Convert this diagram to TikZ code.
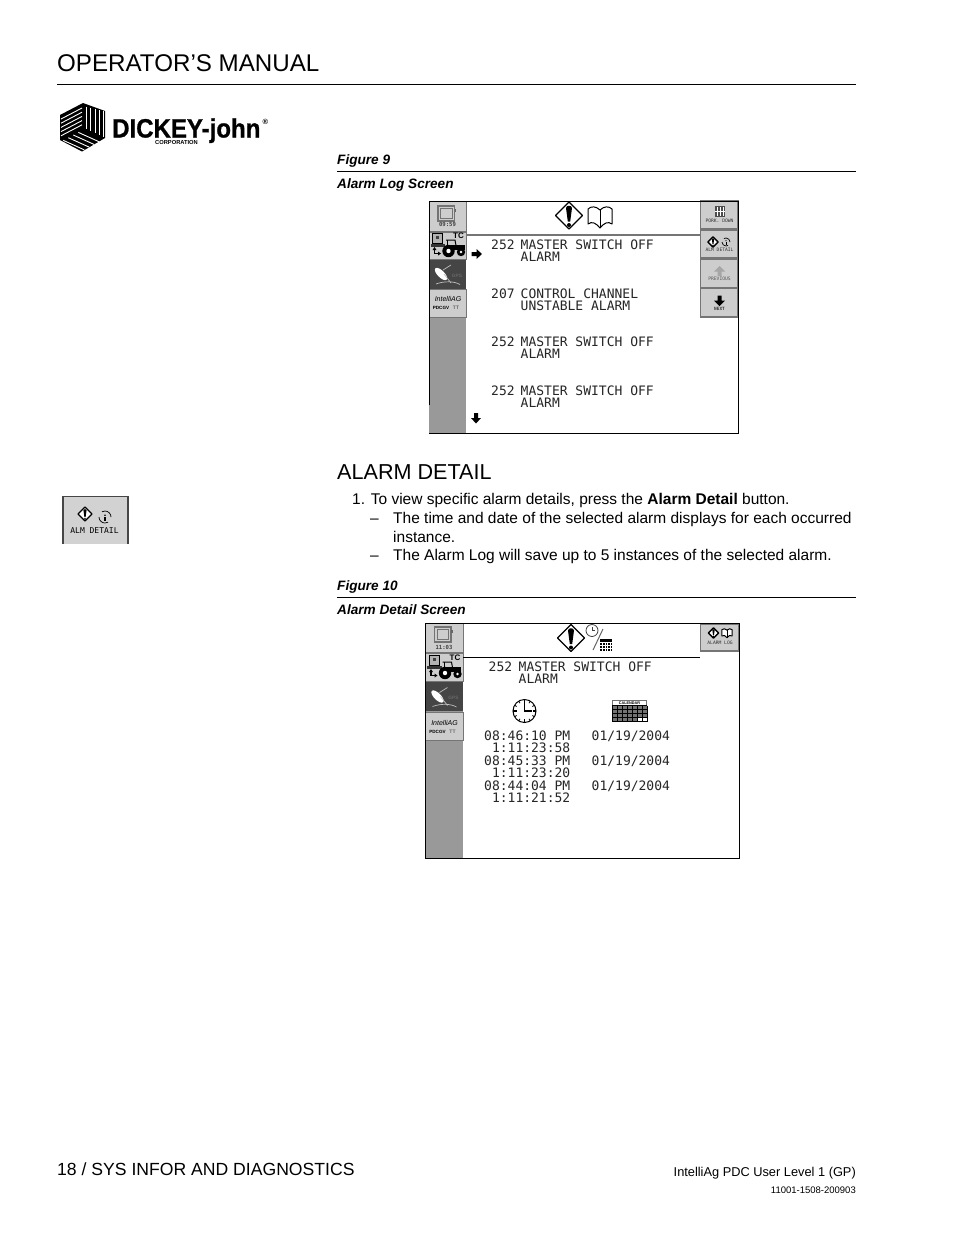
\documentclass[tikz,border=0pt]{standalone}
\usepackage{fontspec}
\setmainfont{Liberation Sans}
\newfontfamily\scrfont{DejaVu Sans Mono}
\newfontfamily\logofont[BoldFeatures={FakeBold=0.9}]{Liberation Sans}
\newcommand{\fsz}[1]{\fontsize{#1}{#1}\selectfont}
\definecolor{sidegray}{HTML}{999999}
\definecolor{btnlight}{HTML}{CDCDCD}
\definecolor{btndark}{HTML}{454545}
\definecolor{btnedge}{HTML}{757575}
\definecolor{scrink}{HTML}{262626}
\tikzset{
  x=1pt,y=-1pt,
  txt/.style={inner sep=0pt,anchor=base west,text=black},
  txtr/.style={inner sep=0pt,anchor=base east,text=black},
  headtxt/.style={txt,font=\fsz{24.15}},
  sectxt/.style={txt,font=\fsz{21.6}},
  bodytxt/.style={txt,font=\fsz{15.5}},
  captxt/.style={txt,font=\fsz{13.6}\bfseries\itshape},
  rulerline/.style={draw=black,line width=.8pt},
  scr/.style={inner sep=0pt,anchor=base west,text=scrink,font=\scrfont\fsz{13}},
  scrr/.style={inner sep=0pt,anchor=base east,text=scrink,font=\scrfont\fsz{13}},
  tinytxt/.style={inner sep=0pt,text=black!80,font=\scrfont\fsz{4.65}},
  timetxt/.style={inner sep=0pt,text=black!75,font=\scrfont\bfseries\fsz{5.6}},
  lbtn/.style={fill=btnlight,draw=btnedge,line width=1pt},
  rbtn/.style={fill=btnlight,draw=btnedge,line width=1.6pt},
  warn/.pic={
    \filldraw[fill=white,draw=black,line width=1.3pt,line join=round]
      (0,-13.5)--(13.5,0)--(0,13.5)--(-13.5,0)--cycle;
    \fill[black] (-3,-7.5) .. controls (-3,-10.5) and (3,-10.5) .. (3,-7.5)
      -- (1.2,6) -- (-1.2,6) -- cycle;
    \fill[black] (0,9.5) circle (2);
  },
  bookicon/.pic={
    \draw[black,line width=1pt,line join=round,fill=white]
      (0,-7) .. controls (-4,-11) and (-9,-11) .. (-12,-8) -- (-12,7)
      .. controls (-8,4) and (-4,6) .. (0,11)
      .. controls (4,6) and (8,4) .. (12,7) -- (12,-8)
      .. controls (9,-11) and (4,-11) .. (0,-7) -- cycle;
    \draw[black,line width=1pt] (0,-7) -- (0,11);
  },
  monitoricon/.pic={
    \draw[black!55,line width=1.1pt] (0,0) rectangle (16.5,15);
    \draw[black!55,line width=.7pt] (2.5,2.5) rectangle (14,12.5);
    \fill[black!60] (16.5,3) rectangle (18,6);
  },
  tractor/.pic={
    \draw[black,line width=.9pt,fill=black!30] (2.5,0.5) rectangle (12.5,10.5);
    \fill[black!75] (6,3.5) rectangle (9,6.5);
    \fill[black!80] (0.5,11.5) rectangle (15,14);
    \node[inner sep=0pt,font=\bfseries\fsz{8},text=black] at (28.5,3) {TC};
    \draw[black,line width=1pt] (16,7.5) -- (25,7.5) -- (26,13);
    \draw[black,line width=1pt] (17.5,7.5) -- (17.5,14);
    \fill[black] (19,12.5) rectangle (34.5,17.5);
    \fill[black] (18.5,18.5) circle (6.2);
    \fill[white] (18.5,18.5) circle (2.2);
    \fill[black] (31,19.5) circle (4.2);
    \fill[white] (31,19.5) circle (1.4);
    \draw[black,line width=1.2pt] (4.5,16) -- (4.5,21) -- (9.5,21);
    \fill[black] (4.5,14.5) -- (2.5,17.5) -- (6.5,17.5) -- cycle;
    \fill[black] (11,21) -- (8,19) -- (8,23) -- cycle;
  },
  gpsicon/.pic={
    \fill[btndark] (0,0) rectangle (36,28);
    \fill[white,rotate around={-45:(11,14)}] (11,14) ellipse (8 and 3.4);
    \draw[black!25,line width=.7pt] (13,10) -- (21,5);
    \draw[black!25,line width=.7pt] (6,24) .. controls (14,21) and (24,21) .. (30,24.5);
    \draw[black!25,line width=.7pt] (14,14) -- (21,23);
    \node[inner sep=0pt,text=black!60,font=\bfseries\fsz{4.8}] at (27,15.5) {GPS};
  },
  intelicon/.pic={
    \node[inner sep=0pt,text=black,font=\itshape\fsz{7}] at (18,9) {IntelliAG};
    \node[inner sep=0pt,text=black,font=\bfseries\fsz{4.6}] at (11,18) {PDCGV};
    \node[inner sep=0pt,text=black!60,font=\bfseries\fsz{5}] at (26,18) {TT};
  },
  fatright/.pic={
    \fill[black] (0,-2) -- (5,-2) -- (5,-5) -- (10.5,0) -- (5,5) -- (5,2) -- (0,2) -- cycle;
  },
  clockicon/.pic={
    \draw[black,line width=1pt,fill=white] (0,0) circle (11.5);
    \foreach \a in {0,30,...,330}{\draw[black,line width=.8pt] (\a:9) -- (\a:11.5);}
    \foreach \a in {0,90,180,270}{\draw[black,line width=1.5pt] (\a:8) -- (\a:11.5);}
    \draw[black,line width=1.6pt] (0,-8) -- (0,0) -- (7,0);
  },
  gridicon/.pic={
    \fill[black!55] (0,0) rectangle (35,22);
    \fill[white] (1,1) rectangle (34,6);
    \node[inner sep=0pt,text=black,font=\bfseries\fsz{3.8}] at (17.5,3.6) {CALENDAR};
    \fill[white] (25,18) rectangle (35,22);
    \foreach \i in {0,...,7}{\draw[black,line width=.7pt] (\i*5,6) -- (\i*5,22);}
    \foreach \j in {0,1,2,3,4}{\draw[black,line width=.7pt] (0,6+\j*4) -- (35,6+\j*4);}
  },
  calcicon/.pic={
    \fill[black] (0,0) rectangle (12,12);
    \foreach \i in {2.5,5,7.5,10}{\draw[white,line width=.35pt] (\i,3) -- (\i,12);}
    \foreach \j in {3,6,9}{\draw[white,line width=.35pt] (0,\j) -- (12,\j);}
  },
  refresh/.pic={
    \draw[black,line width=.7pt] (-4,0) arc (180:60:4);
    \draw[black,line width=.7pt] (4,0) arc (0:-120:4);
    \fill[black] (-0.5,0) rectangle (.5,2.5);
    \fill[black] (0,-1.2) circle (.6);
  },
}
\begin{document}
\begin{tikzpicture}
\useasboundingbox (0,0) rectangle (954,1235);
\fill[white] (0,0) rectangle (954,1235);

% page heading
\node[headtxt] (title) at (57,71.5) {OPERATOR’S MANUAL};
\draw[rulerline] (57,84.5) -- (856,84.5);

% logo
\fill[black] (83,103) -- (105,111) -- (105,138) -- (82,151.5) -- (60,140) -- (60,115) -- cycle;
\foreach \d in {4,8.2,12.4,16.6,20.8}{
  \draw[white,line width=.9pt] (61,115+\d) -- (82,104+\d);}
\foreach \xx in {86,90.5,95,99.5,103}{
  \draw[white,line width=.9pt] (\xx,106+\xx/4-21) -- (\xx,128+\xx/2.2-38);}
\foreach \t in {.2,.42,.64,.86}{
  \draw[white,line width=.9pt] (83-23*\t,130+12*\t) -- (104-23*\t,139.5+12*\t);}
\node[inner sep=0pt,anchor=base west,xscale=.907,transform shape,font=\logofont\bfseries\fsz{26.5}] (logotext) at (112,137.5) {\smash{DICKEY-john}};
\node[inner sep=0pt,anchor=base west,font=\bfseries\fsz{5.8},xscale=.99,transform shape] (logocorp) at (155,144.5) {\smash{CORPORATION}};
\node[inner sep=0pt,anchor=base west,font=\bfseries\fsz{7.5}] (logoreg) at (262.5,124.5) {®};

% figure 9
\node[captxt] (fig9) at (337,164) {Figure 9};
\draw[rulerline] (337,171.5) -- (856,171.5);
\node[captxt] (cap9) at (337,188) {Alarm Log Screen};

% screen 1
\fill[white] (429,201) rectangle (738,433);
\fill[sidegray] (429,201) rectangle (466,433);
\draw[lbtn] (429,201) rectangle (466,231);
\draw[lbtn] (429,232) rectangle (466,259.5);
\fill[btndark] (429,260) rectangle (466,288.5);
\draw[lbtn] (429,289.5) rectangle (466,317.5);
\pic at (438,206) {monitoricon};
\node[timetxt] (t1) at (447.5,224.5) {09:59};
\pic at (430,232.5) {tractor};
\pic at (430,260) {gpsicon};
\pic at (430,290) {intelicon};
\draw[btnedge,line width=1.5pt] (466,235) -- (700,235);
\draw[rbtn] (700.5,201) rectangle (738,229);
\draw[rbtn] (700.5,230.5) rectangle (738,258);
\draw[rbtn] (700.5,259.5) rectangle (738,288);
\draw[rbtn] (700.5,288.5) rectangle (738,317);
% right button glyphs
\fill[black!70] (714.5,206) rectangle (725,217);
\foreach \i in {717,720,723}{\draw[white,line width=.5pt] (\i,207) -- (\i,216);}
\draw[white,line width=.5pt] (714.5,211.5) -- (725,211.5);
\node[tinytxt] (b1) at (719.5,220.5) {PORK. DOWN};
\pic[scale=.38] at (713,242) {warn};
\pic at (726,242) {refresh};
\node[tinytxt] (b2) at (719.5,250) {ALM DETAIL};
\fill[black!35] (719.5,266) -- (725,271.5) -- (721.5,271.5) -- (721.5,276) -- (717.5,276) -- (717.5,271.5) -- (714,271.5) -- cycle;
\node[tinytxt,text=black!65] (b3) at (719.5,278.5) {PREVIOUS};
\fill[black] (719.5,306) -- (725,300.5) -- (721.5,300.5) -- (721.5,295.5) -- (717.5,295.5) -- (717.5,300.5) -- (714,300.5) -- cycle;
\node[tinytxt,font=\scrfont\bfseries\fsz{4.4}] (b4) at (719.5,308.5) {NEXT};
% header icons
\pic at (569,215.5) {warn};
\pic at (600,217) {bookicon};
% rows
\node[scr] (r1n) at (491,249) {252};
\node[scr] (r1a) at (520.5,249) {MASTER SWITCH OFF};
\node[scr] (r1b) at (520.5,261) {ALARM};
\node[scr] (r2n) at (491,298) {207};
\node[scr] (r2a) at (520.5,298) {CONTROL CHANNEL};
\node[scr] (r2b) at (520.5,310) {UNSTABLE ALARM};
\node[scr] (r3n) at (491,346.5) {252};
\node[scr] (r3a) at (520.5,346.5) {MASTER SWITCH OFF};
\node[scr] (r3b) at (520.5,358.5) {ALARM};
\node[scr] (r4n) at (491,395.5) {252};
\node[scr] (r4a) at (520.5,395.5) {MASTER SWITCH OFF};
\node[scr] (r4b) at (520.5,407.5) {ALARM};
\pic at (471.5,254) {fatright};
\pic[rotate=-90] at (476,413) {fatright};
% outline
\draw[black,line width=1pt] (429,405) -- (429,201) -- (738.5,201) -- (738.5,433.5) -- (429,433.5);

% alarm detail section
\node[sectxt] (sec) at (337,479) {ALARM DETAIL};
\node[bodytxt] (s1) at (352,504) {1. To view specific alarm details, press the \textbf{Alarm Detail} button.};
\node[bodytxt] (s2) at (370,523) {–};
\node[bodytxt] (s2a) at (393,523) {The time and date of the selected alarm displays for each occurred};
\node[bodytxt] (s2b) at (393,542) {instance.};
\node[bodytxt] (s3) at (370,560) {–};
\node[bodytxt] (s3a) at (393,560) {The Alarm Log will save up to 5 instances of the selected alarm.};

% alm detail button sample
\fill[btnlight!90] (63,496.5) rectangle (128,544);
\draw[btnedge!60!black,line width=1.4pt] (63,544) -- (63,496.5) -- (128,496.5) -- (128,544);
\pic[scale=.52] at (85,514) {warn};
\pic[scale=1.5] at (105,517) {refresh};
\node[inner sep=0pt,text=black,font=\scrfont\fsz{8}] (almbtn) at (94.5,530.5) {ALM DETAIL};

% figure 10
\node[captxt] (fig10) at (337,590) {Figure 10};
\draw[rulerline] (337,597.5) -- (856,597.5);
\node[captxt] (cap10) at (337,614) {Alarm Detail Screen};

% screen 2
\fill[white] (425,623.5) rectangle (739,858);
\fill[sidegray] (425,623.5) rectangle (463,858);
\draw[lbtn] (425,623.5) rectangle (463,652.5);
\draw[lbtn] (425,653.5) rectangle (463,681);
\fill[btndark] (425,682) rectangle (463,711);
\draw[lbtn] (425,712) rectangle (463,740.5);
\pic at (434.5,627) {monitoricon};
\node[timetxt] (t2) at (444,647) {11:03};
\pic at (426.5,654.5) {tractor};
\pic at (426.5,682.5) {gpsicon};
\pic at (426.5,713.5) {intelicon};
\draw[black,line width=1pt] (463,657.5) -- (700,657.5);
\draw[rbtn] (700.5,624) rectangle (739,651);
\pic[scale=.38] at (713.5,633) {warn};
\pic[scale=.42] at (727,633) {bookicon};
\node[tinytxt] (b5) at (720,643) {ALARM LOG};
\pic at (571,638) {warn};
\draw[black!75,line width=.8pt,fill=white] (592,630.5) circle (6);
\draw[black!75,line width=.7pt] (592,627) -- (592,630.5) -- (595,630.5);
\draw[black!60,line width=1pt] (593,650) -- (603,629);
\pic at (600,639) {calcicon};
\node[scr] (d1n) at (488.5,671.5) {252};
\node[scr] (d1a) at (518.5,671.5) {MASTER SWITCH OFF};
\node[scr] (d1b) at (518.5,683.5) {ALARM};
\pic at (524.5,711) {clockicon};
\pic at (612,699.5) {gridicon};
\node[scrr] (e1) at (570.5,740) {08:46:10 PM};
\node[scrr] (e2) at (570.5,752.5) {1:11:23:58};
\node[scrr] (e3) at (570.5,765) {08:45:33 PM};
\node[scrr] (e4) at (570.5,777.5) {1:11:23:20};
\node[scrr] (e5) at (570.5,790) {08:44:04 PM};
\node[scrr] (e6) at (570.5,802.5) {1:11:21:52};
\node[scr] (f1) at (591.5,740) {01/19/2004};
\node[scr] (f2) at (591.5,765) {01/19/2004};
\node[scr] (f3) at (591.5,790) {01/19/2004};
\draw[black,line width=1pt] (425,623.5) -- (739.5,623.5) -- (739.5,858.5) -- (425,858.5) -- cycle;

% footer
\node[txt,font=\fsz{17.6}] (foot) at (57,1175) {18 / SYS INFOR AND DIAGNOSTICS};
\node[txtr,font=\fsz{12.8}] (footr) at (856,1176) {IntelliAg PDC User Level 1 (GP)};
\node[txtr,font=\fsz{9.5}] (footn) at (856,1193) {11001-1508-200903};
\end{tikzpicture}
\end{document}
